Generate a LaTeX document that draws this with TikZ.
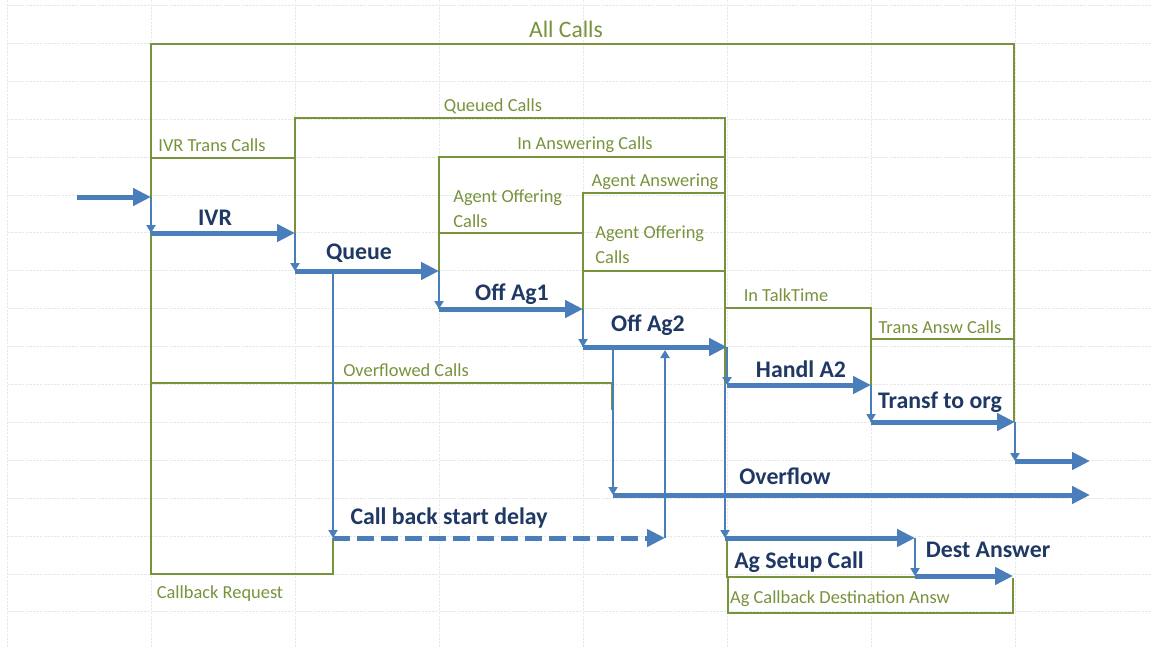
\documentclass[tikz,border=0pt]{standalone}
\usepackage{fontspec}
\setmainfont{Carlito}
\usetikzlibrary{arrows.meta}
\definecolor{grn}{HTML}{77933C}
\definecolor{blu}{HTML}{4A7EBB}
\definecolor{navy}{HTML}{1F3864}
\definecolor{gridc}{HTML}{E8E8E8}
\begin{document}
\begin{tikzpicture}[x=0.5pt,y=-0.5pt,
  gridline/.style={gridc, line width=0.5pt, dash pattern=on 1.2pt off 0.6pt},
  box/.style={grn, line width=0.75pt},
  flow/.style={blu, line width=2.5pt, -{Triangle[length=9pt,width=8.5pt]}},
  drop/.style={blu, line width=1pt, -{Triangle[length=4pt,width=4.5pt]}},
  glabel/.style={grn, font=\fontsize{9.2}{12.5}\selectfont, inner sep=0pt},
  blabel/.style={navy, font=\fontsize{11.9}{14}\selectfont\bfseries, inner sep=0pt}]
\fill[white] (0,0) rectangle (1152,648);
\useasboundingbox (0,0) rectangle (1152,648);
% spreadsheet grid
\foreach \i in {0,...,7} \draw[gridline] ({7.5+144*\i},0) -- ({7.5+144*\i},648);
\foreach \j in {0,...,16} \draw[gridline] (7.5,{5.5+37.9*\j}) -- (1152,{5.5+37.9*\j});

% green frames
\draw[box] (151,383) -- (151,44) -- (1014,44) -- (1014,422);
\draw[box] (151,158) -- (295,158) -- (295,233);
\draw[box] (295,233) -- (295,118) -- (725,118) -- (725,385);
\draw[box] (439,309) -- (439,157) -- (725,157);
\draw[box] (439,233) -- (583,233);
\draw[box] (583,347) -- (583,193) -- (725,193);
\draw[box] (583,271) -- (725,271);
\draw[box] (725,308) -- (871,308) -- (871,422);
\draw[box] (871,339) -- (1014,339);
\draw[box] (151,383) -- (612,383) -- (612,410);
\draw[box] (151,383) -- (151,574) -- (333,574) -- (333,538);
\draw[box] (727,538) -- (727,577) -- (915,577);
\draw[box] (728,578) -- (728,613) -- (1013,613) -- (1013,578);

% green labels
\node[glabel, font=\fontsize{11.8}{14}\selectfont, anchor=base] (tAll) at (566,37) {All Calls};
\node[glabel, anchor=base] (tQueued) at (493,111) {Queued Calls};
\node[glabel, anchor=base] (tIVRT) at (212,151) {IVR Trans Calls};
\node[glabel, anchor=base] (tInAns) at (585,149) {In Answering Calls};
\node[glabel, anchor=base] (tAgAns) at (655,186) {Agent Answering};
\node[glabel, align=left, anchor=north west] (tAgOff1) at (453,189) {Agent Offering\\Calls};
\node[glabel, align=left, anchor=north west] (tAgOff2) at (595,225) {Agent Offering\\Calls};
\node[glabel, anchor=base] (tTalk) at (786,301) {In TalkTime};
\node[glabel, anchor=base] (tTrans) at (940,333) {Trans Answ Calls};
\node[glabel, anchor=base] (tOver) at (406,376) {Overflowed Calls};
\node[glabel, anchor=base] (tCbReq) at (220,598) {Callback Request};
\node[glabel, anchor=base] (tCbDest) at (840,603) {Ag Callback Destination Answ};

% flow points
\coordinate (in0) at (77,197);
\coordinate (a1) at (151,197);  \coordinate (a2) at (151,233);
\coordinate (b1) at (295,233);  \coordinate (b2) at (295,271);
\coordinate (c1) at (439,271);  \coordinate (c2) at (439,309);
\coordinate (d1) at (583,309);  \coordinate (d2) at (583,347);
\coordinate (e1) at (727,347);  \coordinate (e2) at (727,385);
\coordinate (f1) at (871,385);  \coordinate (f2) at (871,422);
\coordinate (g1) at (1015,422); \coordinate (g2) at (1015,461);
\coordinate (out1) at (1090,461);
\coordinate (q1) at (333,271);  \coordinate (q2) at (333,538);
\coordinate (r1) at (665,538);  \coordinate (r2) at (665,350);
\coordinate (o1) at (613,347);  \coordinate (o2) at (613,495);
\coordinate (out2) at (1090,495);
\coordinate (s1) at (725,385);  \coordinate (s2) at (725,538);
\coordinate (t1) at (915,538);  \coordinate (t2) at (915,576);
\coordinate (t3) at (1013,576);

% blue flows
\draw[flow] (in0) -- (a1);
\draw[drop] (a1) -- (a2);
\draw[flow] (a2) -- (b1);
\draw[drop] (b1) -- (b2);
\draw[flow] (b2) -- (c1);
\draw[drop] (c1) -- (c2);
\draw[flow] (c2) -- (d1);
\draw[drop] (d1) -- (d2);
\draw[flow] (d2) -- (e1);
\draw[drop] (e1) -- (e2);
\draw[flow] (e2) -- (f1);
\draw[drop] (f1) -- (f2);
\draw[flow] (f2) -- (g1);
\draw[drop] (g1) -- (g2);
\draw[flow] (g2) -- (out1);
\draw[drop] (q1) -- (q2);
\draw[flow, dash pattern=on 8.5pt off 3.5pt] (q2) -- (r1);
\draw[drop] (r1) -- (r2);
\draw[drop] (o1) -- (o2);
\draw[flow] (o2) -- (out2);
\draw[drop] (s1) -- (s2);
\draw[flow] (s2) -- (t1);
\draw[drop] (t1) -- (t2);
\draw[flow] (t2) -- (t3);

% bold labels
\node[blabel, anchor=base] (lIVR) at (215,225) {IVR};
\node[blabel, anchor=base] (lQueue) at (359,259) {Queue};
\node[blabel, anchor=base] (lOff1) at (512,300) {Off Ag1};
\node[blabel, anchor=base] (lOff2) at (648,331) {Off Ag2};
\node[blabel, anchor=base] (lHandl) at (801,377) {Handl A2};
\node[blabel, anchor=base] (lTransf) at (940,408) {Transf to org};
\node[blabel, anchor=base] (lOverflow) at (785,484) {Overflow};
\node[blabel, anchor=base] (lCbDelay) at (449,524) {Call back start delay};
\node[blabel, anchor=base] (lSetup) at (799,568) {Ag Setup Call};
\node[blabel, anchor=base] (lDest) at (988,557) {Dest Answer};
\end{tikzpicture}
\end{document}
